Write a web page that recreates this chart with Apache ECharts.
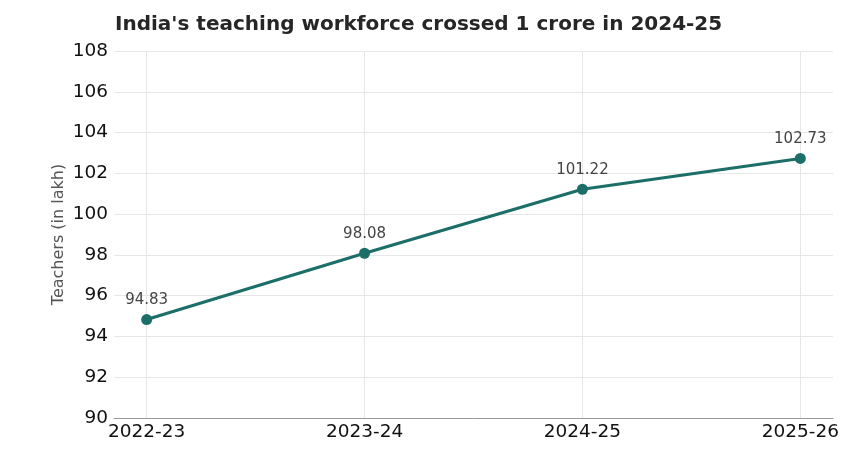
<!DOCTYPE html>
<html>
<head>
<meta charset="utf-8">
<script src="https://cdn.jsdelivr.net/npm/echarts@6/dist/echarts.min.js"></script>
<style>
html, body { margin: 0; padding: 0; background: #fff; }
#chart { width: 867px; height: 474px; }
</style>
</head>
<body>
<div id="chart"></div>
<script>
// data
var years = ['2022-23', '2023-24', '2024-25', '2025-26'];
var teachers = [94.83, 98.08, 101.22, 102.73];
var yTicks = [90, 92, 94, 96, 98, 100, 102, 104, 106, 108];

var FONT = 'DejaVu Sans';
var chart = echarts.init(document.getElementById('chart'));

var points = teachers.map(function (v, i) { return [i, v]; });
var xIdx = years.map(function (y, i) { return i; });

var option = {
    animation: false,
    title: {
        text: "India's teaching workforce crossed 1 crore in 2024-25",
        left: 115,
        top: 15,
        padding: 0,
        textStyle: { fontFamily: FONT, fontSize: 20, fontWeight: 'bold', color: '#262626' }
    },
    grid: { left: 114, right: 34, top: 51, bottom: 56 },
    xAxis: {
        type: 'value',
        min: -0.15,
        max: 3.15,
        axisLine: { show: true, lineStyle: { color: '#999', width: 1 } },
        axisTick: { show: false, customValues: xIdx },
        splitLine: { show: false },
        axisLabel: {
            customValues: xIdx,
            formatter: function (v) { return years[Math.round(v)]; },
            fontFamily: FONT, fontSize: 18.5, color: '#111', margin: 5
        }
    },
    yAxis: {
        type: 'value',
        min: 90,
        max: 108,
        interval: 2,
        name: 'Teachers (in lakh)',
        nameLocation: 'middle',
        nameRotate: 90,
        nameGap: 47,
        nameMoveOverlap: false,
        nameTextStyle: { fontFamily: FONT, fontSize: 16, color: '#555' },
        axisLine: { show: false },
        axisTick: { show: false },
        splitLine: { lineStyle: { color: '#e6e6e6', width: 1 } },
        axisLabel: {
            fontFamily: FONT, fontSize: 18.5, color: '#111', margin: 6,
            formatter: function (v) { return yTicks.indexOf(v) >= 0 ? String(v) : ''; }
        }
    },
    series: [{
        type: 'line',
        data: points,
        symbol: 'circle',
        symbolSize: 11,
        lineStyle: { color: '#1c6e68', width: 3 },
        itemStyle: { color: '#1c6e68' },
        label: {
            show: true,
            position: 'top',
            distance: 6,
            fontFamily: FONT, fontSize: 15, color: '#444',
            formatter: function (p) { return p.value[1].toFixed(2); }
        },
        markLine: {
            silent: true,
            symbol: 'none',
            label: { show: false },
            lineStyle: { color: '#e6e6e6', width: 1, type: 'solid' },
            z: 0,
            data: xIdx.map(function (i) { return { xAxis: i }; })
        },
        z: 3
    }]
};
chart.setOption(option);
</script>
</body>
</html>
